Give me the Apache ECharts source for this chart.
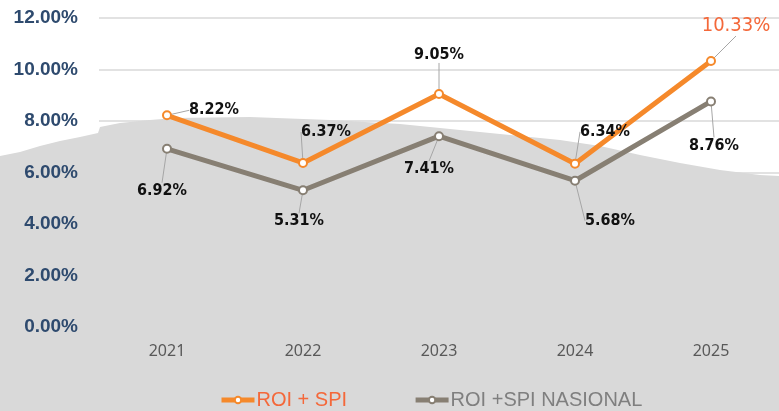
<!DOCTYPE html>
<html>
<head>
<meta charset="utf-8">
<script src="https://cdn.jsdelivr.net/npm/echarts@6/dist/echarts.min.js"></script>
<style>
  html, body { margin: 0; padding: 0; background: #fff; }
  #chart { width: 779px; height: 411px; }
</style>
</head>
<body>
<div id="chart"></div>
<script>
const years = ['2021', '2022', '2023', '2024', '2025']
const roiSpi = [8.22, 6.37, 9.05, 6.34, 10.33]
const roiSpiNasional = [6.92, 5.31, 7.41, 5.68, 8.76]
const yTicks = { min: 0, max: 12, interval: 2 }

// label offsets from each point (px), reference style
const orangeOffsets = [[47, -5], [23, -31], [0, -39], [30, -32], [25, -35]]
const grayOffsets = [[-5, 42], [-4, 31], [-10, 33], [35, 40], [3, 44]]

const ORANGE = '#F5892B'
const GRAY = '#877F73'
const LABEL_FONT = "'Liberation Sans Narrow', 'DejaVu Sans Condensed', sans-serif"

const chart = echarts.init(document.getElementById('chart'))

const pctLabel = (p) => p.value.toFixed(2) + '%'

const option = {
  animation: false,
  grid: { left: 99, right: 0, top: 18, bottom: 84 },
  graphic: [{
    type: 'polygon',
    z: -10,
    shape: {
      points: [[0, 156], [20, 152], [40, 146], [60, 141], [80, 137], [98, 133], [100, 127], [120, 123],
        [150, 120], [175, 118], [250, 117], [330, 120], [400, 124], [440, 128], [480, 132], [520, 136],
        [560, 140], [600, 146], [640, 155], [680, 163], [720, 170], [760, 175], [779, 176], [779, 411], [0, 411]]
    },
    style: { fill: '#D9D9D9' }
  }],
  legend: {
    left: 214,
    top: 385,
    itemWidth: 33,
    itemHeight: 8,
    itemGap: 66,
    lineStyle: { width: 5 },
    itemStyle: { borderWidth: 1 },
    textStyle: { fontSize: 20, fontFamily: 'Liberation Sans, Arial, sans-serif', padding: [0, 0, 0, -3] },
    data: [
      { name: 'ROI + SPI', textStyle: { color: '#F4683A' } },
      { name: 'ROI +SPI NASIONAL', textStyle: { color: '#7F7F7F' } }
    ]
  },
  xAxis: {
    type: 'category',
    data: years,
    boundaryGap: true,
    axisLine: { show: false },
    axisTick: { show: false },
    axisLabel: { color: '#595959', fontSize: 16, margin: 16, fontFamily: "'Noto Sans', sans-serif" }
  },
  yAxis: {
    type: 'value',
    min: yTicks.min,
    max: yTicks.max,
    interval: yTicks.interval,
    axisLabel: {
      color: '#2E4A6E',
      fontSize: 19,
      fontWeight: 'bold',
      margin: 21,
      fontFamily: 'Liberation Sans, Arial, sans-serif',
      formatter: (v) => v.toFixed(2) + '%'
    },
    splitLine: { lineStyle: { color: '#D9D9D9', width: 1.5 } }
  },
  series: [
    {
      name: 'ROI + SPI',
      type: 'line',
      data: roiSpi,
      z: 4,
      symbol: 'emptyCircle',
      symbolSize: 8,
      lineStyle: { color: ORANGE, width: 5 },
      itemStyle: { color: ORANGE, borderWidth: 1.5 },
      label: {
        show: true,
        position: 'inside',
        formatter: pctLabel,
        color: '#111',
        fontSize: 16,
        fontWeight: 'bold',
        fontFamily: LABEL_FONT
      },
      labelLine: { show: true, lineStyle: { color: '#A6A6A6', width: 1 } },
      labelLayout: (p) => ({ dx: orangeOffsets[p.dataIndex][0], dy: orangeOffsets[p.dataIndex][1] })
    },
    {
      name: 'ROI +SPI NASIONAL',
      type: 'line',
      data: roiSpiNasional,
      z: 3,
      symbol: 'emptyCircle',
      symbolSize: 8,
      lineStyle: { color: GRAY, width: 5 },
      itemStyle: { color: GRAY, borderWidth: 1.5 },
      label: {
        show: true,
        position: 'inside',
        formatter: pctLabel,
        color: '#111',
        fontSize: 16,
        fontWeight: 'bold',
        fontFamily: LABEL_FONT
      },
      labelLine: { show: true, lineStyle: { color: '#A6A6A6', width: 1 } },
      labelLayout: (p) => ({ dx: grayOffsets[p.dataIndex][0], dy: grayOffsets[p.dataIndex][1] })
    }
  ]
}

// last orange label is larger and orange in the reference
option.series[0].data = roiSpi.map((v, i) => i === roiSpi.length - 1
  ? { value: v, label: { color: '#F4683A', fontSize: 20, fontWeight: 'normal' } }
  : v)

chart.setOption(option)
</script>
</body>
</html>
